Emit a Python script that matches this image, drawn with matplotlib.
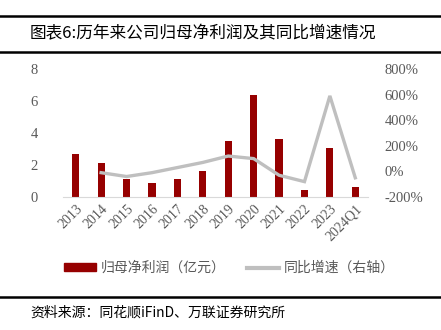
import matplotlib
matplotlib.use("Agg")
import matplotlib.pyplot as plt
from matplotlib.lines import Line2D
from matplotlib.patches import Patch

categories = ["2013", "2014", "2015", "2016", "2017", "2018", "2019", "2020",
              "2021", "2022", "2023", "2024Q1"]
profit = [2.7, 2.1, 1.15, 0.9, 1.1, 1.65, 3.5, 6.4, 3.6, 0.45, 3.05, 0.6]
growth_cats = categories[1:]
growth = [-10, -40, -10, 30, 70, 120, 100, -30, -80, 590, -50]
left_ticks = [0, 2, 4, 6, 8]
right_ticks = [-200, 0, 200, 400, 600, 800]

bar_color = "#960000"
line_color = "#BFBFBF"
tick_color = "#595959"
cjk = ["Noto Sans CJK SC", "DejaVu Sans"]
serif = ["Liberation Serif", "DejaVu Serif"]

fig = plt.figure(figsize=(4.41, 3.30), dpi=100)
W, H = 441, 330
ax = fig.add_axes([63 / W, 1 - 197 / H, (368 - 63) / W, (197 - 69) / H])
x = list(range(len(categories)))
ax.bar(x, profit, width=0.28, color=bar_color, zorder=2)
ax.set_xlim(-0.5, len(categories) - 0.5)
ax.set_ylim(0, 8)
ax.set_yticks(left_ticks)
ax.set_yticklabels([str(t) for t in left_ticks], fontfamily=serif, fontsize=10.5, color=tick_color)
ax.set_xticks(x)
ax.set_xticklabels(categories, rotation=45, ha="right", va="top", rotation_mode="anchor",
                   fontfamily=serif, fontsize=10, color=tick_color)
for s in ["top", "right", "left"]:
    ax.spines[s].set_visible(False)
ax.spines["bottom"].set_color("#D9D9D9")
ax.tick_params(axis="both", length=0)
ax.tick_params(axis="y", pad=18)
ax.tick_params(axis="x", pad=4)

ax2 = ax.twinx()
gx = [categories.index(c) for c in growth_cats]
ax2.plot(gx, growth, color=line_color, lw=2.4, zorder=3, solid_joinstyle="miter")
ax2.set_ylim(-200, 800)
ax2.set_yticks(right_ticks)
ax2.set_yticklabels([f"{t}%" for t in right_ticks], fontfamily=serif, fontsize=10.5, color=tick_color)
for s in ["top", "right", "left", "bottom"]:
    ax2.spines[s].set_visible(False)
ax2.tick_params(axis="y", length=0, pad=12)

# title and rules
fig.add_artist(Line2D([0, 1], [1 - 16 / H, 1 - 16 / H], color="black", lw=1.8))
fig.add_artist(Line2D([0, 1], [1 - 52 / H, 1 - 52 / H], color="black", lw=1.8))
fig.text(30 / W, 1 - 34 / H, "图表6:历年来公司归母净利润及其同比增速情况", fontfamily=cjk,
         fontsize=12, va="center", ha="left", color="black")

# legend
handles = [Patch(color=bar_color), Line2D([0], [0], color=line_color, lw=3)]
fig.legend(handles, ["归母净利润（亿元）", "同比增速（右轴）"], loc="center",
           bbox_to_anchor=(0.52, 1 - 268 / H), ncol=2, frameon=False,
           prop={"family": cjk, "size": 10}, labelcolor=tick_color,
           handlelength=2.3, handleheight=0.45, columnspacing=1.6, handletextpad=0.3)

fig.add_artist(Line2D([0, 1], [1 - 297 / H, 1 - 297 / H], color="black", lw=1.8))
fig.text(30 / W, 1 - 313 / H, "资料来源：同花顺iFinD、万联证券研究所", fontfamily=cjk,
         fontsize=10, va="center", ha="left", color="black")

fig.savefig("out.png", dpi=100)
